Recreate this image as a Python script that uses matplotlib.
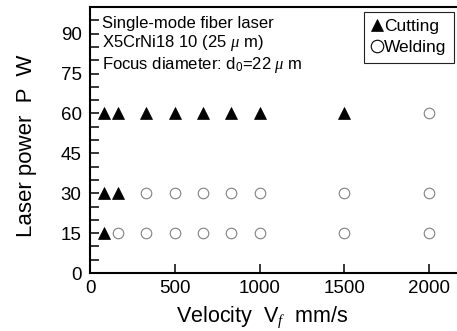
import matplotlib
matplotlib.use("Agg")
import matplotlib.pyplot as plt
from matplotlib.lines import Line2D

plt.rcParams['font.family'] = ['Liberation Sans', 'DejaVu Sans']
plt.rcParams['mathtext.fontset'] = 'custom'
plt.rcParams['mathtext.rm'] = 'Liberation Sans'
plt.rcParams['mathtext.it'] = 'Liberation Serif:italic'

# Data (velocity in mm/s, laser power in W)
cut_v = [83, 167, 333, 500, 667, 833, 1000, 1500, 83, 167, 83]
cut_p = [60, 60, 60, 60, 60, 60, 60, 60, 30, 30, 15]
weld_v = [2000, 333, 500, 667, 833, 1000, 1500, 2000,
          167, 333, 500, 667, 833, 1000, 1500, 2000]
weld_p = [60, 30, 30, 30, 30, 30, 30, 30,
          15, 15, 15, 15, 15, 15, 15, 15]
x_ticks = [0, 500, 1000, 1500, 2000]
y_ticks = [0, 15, 30, 45, 60, 75, 90]

fig = plt.figure(figsize=(4.57, 3.31), dpi=100)
ax = fig.add_axes([90/457, 58/331, 367/457, 266/331])

ax.plot(cut_v, cut_p, linestyle='none', marker='^', ms=8.8,
        markeredgewidth=0.5, color='black', zorder=3)
ax.plot(weld_v, weld_p, linestyle='none', marker='o', ms=7.6,
        markerfacecolor='white', markeredgecolor='#808080',
        markeredgewidth=0.8, zorder=3)

ax.set_xlim(0, 2165)
ax.set_ylim(0, 100)
ax.set_xticks(x_ticks)
ax.set_yticks(y_ticks)
ax.set_yticks(range(0, 100, 5), minor=True)

for s in ['left', 'bottom', 'top']:
    ax.spines[s].set_linewidth(1.5)
ax.spines['right'].set_visible(False)

ax.tick_params(axis='both', which='both', direction='in', length=6.5,
               width=1.1, labelsize=13.5)
ax.tick_params(axis='x', pad=5)
ax.tick_params(axis='y', pad=6)

ax.set_xlabel(r'Velocity  V$_{\mathit{f}}$  mm/s', fontsize=15.5)
ax.xaxis.set_label_coords(0.468, -0.12)
ax.set_ylabel('Laser power  P  W', fontsize=16)
ax.yaxis.set_label_coords(-0.145, 0.48)

ax.text(0.032, 0.965,
        'Single-mode fiber laser\nX5CrNi18 10 (25 $\\mu$ m)\nFocus diameter: d$_0$=22 $\\mu$ m',
        transform=ax.transAxes, fontsize=12, va='top', ha='left',
        linespacing=1.12)

handles = [Line2D([], [], linestyle='none', marker='^', ms=9, color='black',
                  markeredgewidth=0.5),
           Line2D([], [], linestyle='none', marker='o', ms=9,
                  markerfacecolor='white', markeredgecolor='black',
                  markeredgewidth=0.8)]
leg = ax.legend(handles, ['Cutting', 'Welding'], loc='upper right',
                bbox_to_anchor=(0.993, 0.983), fontsize=12.5,
                handlelength=0.6, handletextpad=0.1, borderpad=0.45,
                labelspacing=0.3, borderaxespad=0, fancybox=False,
                framealpha=1, edgecolor='#222222')
leg.get_frame().set_linewidth(0.8)

fig.savefig('out.png', dpi=100)
